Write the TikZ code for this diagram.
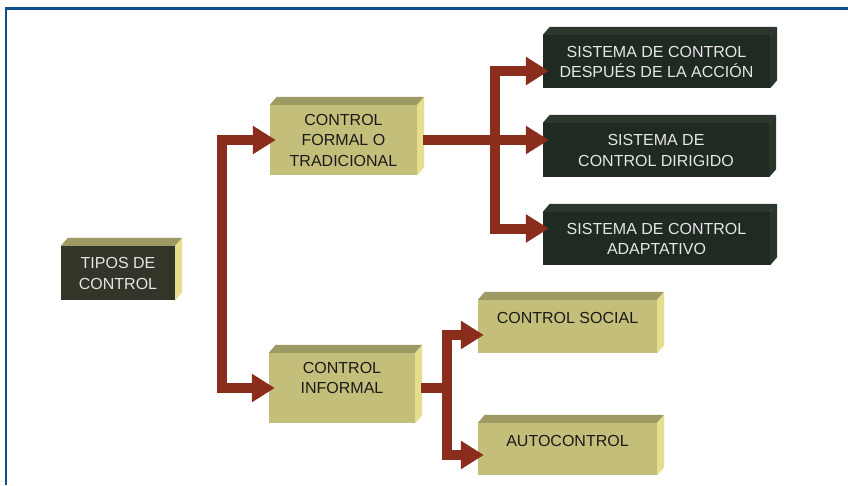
\documentclass[tikz,border=0pt]{standalone}
\usepackage{fontspec}
\setmainfont{Liberation Sans}
\usetikzlibrary{arrows.meta,calc}
\definecolor{arena}{HTML}{C3BF7B}
\definecolor{techoclaro}{HTML}{9D9A63}
\definecolor{ladoclaro}{HTML}{E4DE8D}
\definecolor{oliva}{HTML}{333528}
\definecolor{pizarra}{HTML}{1F2A22}
\definecolor{techooscuro}{HTML}{2C362D}
\definecolor{ladooscuro}{HTML}{29342B}
\definecolor{granate}{HTML}{8B2D1D}
\definecolor{marco}{HTML}{114C8C}
\definecolor{tiza}{HTML}{E6E6E6}
\definecolor{tinta}{HTML}{1A1A1A}

\begin{document}
\begin{tikzpicture}[x=1pt,y=-1pt,
  caja/.style={inner sep=0pt,align=center,text depth=0pt,font=\fontsize{16}{20.5}\selectfont},
  una/.style={text height=11.5pt},
  dos/.style={text height=32pt},
  tres/.style={text height=52.5pt},
  clara/.style={caja,fill=arena,text=tinta},
  oscura/.style={caja,fill=pizarra,text=tiza},
  flecha/.style={draw=granate,line width=10pt,-{Triangle[length=23pt,width=27pt]},shorten >=-6pt}]
\useasboundingbox[fill=white] (0,0) rectangle (848,485);
\draw[marco,line width=2.5pt] (6,485)--(6,8.5)--(848,8.5);

% caras frontales
\node[oscura,dos,fill=oliva,minimum width=114pt,minimum height=54pt] (tipos) at (118,273) {TIPOS DE\\CONTROL};
\node[clara,tres,minimum width=147pt,minimum height=70pt] (formal) at (343.5,140) {CONTROL\\FORMAL O\\TRADICIONAL};
\node[clara,dos,minimum width=146pt,minimum height=70pt,text depth=20.5pt] (informal) at (342,388) {CONTROL\\INFORMAL};
\node[oscura,dos,minimum width=227pt,minimum height=53pt] (despues) at (656.5,61.5) {SISTEMA DE CONTROL\\DESPUÉS DE LA ACCIÓN};
\node[oscura,dos,minimum width=226pt,minimum height=54pt] (dirigido) at (656,150) {SISTEMA DE\\CONTROL DIRIGIDO};
\node[oscura,dos,minimum width=227pt,minimum height=53pt] (adapt) at (656.5,238.5) {SISTEMA DE CONTROL\\ADAPTATIVO};
\node[clara,una,minimum width=179pt,minimum height=53pt,text depth=18.5pt] (social) at (567.5,326.5) {CONTROL SOCIAL};
\node[clara,una,minimum width=179pt,minimum height=52pt,text depth=17.5pt] (auto) at (567.5,449) {AUTOCONTROL};

% techo y lado de cada caja
\foreach \caja/\techo/\lado in {tipos/techoclaro/ladoclaro,formal/techoclaro/ladoclaro,informal/techoclaro/ladoclaro,
    despues/techooscuro/ladooscuro,dirigido/techooscuro/ladooscuro,adapt/techooscuro/ladooscuro,
    social/techoclaro/ladoclaro,auto/techoclaro/ladoclaro}{
  \fill[\techo] (\caja.north west) -- ++(7,-8) -- ($(\caja.north east)+(7,-8)$) -- (\caja.north east) -- cycle;
  \fill[\lado] (\caja.north east) -- ++(7,-8) -- ($(\caja.south east)+(7,-8)$) -- (\caja.south east) -- cycle;
}

% flechas
\coordinate (tronco) at (222,265);
\coordinate (troncoB) at (495,140);
\coordinate (troncoC) at (447,388);
\draw[flecha] (tronco) |- (formal.west);
\draw[flecha] (tronco) |- (informal.west);
\draw[flecha] ([xshift=6pt]formal.east) -- (formal.east -| dirigido.west);
\draw[flecha] (troncoB) |- ([yshift=-9.5pt]despues.west);
\draw[flecha] (troncoB) |- ([yshift=10pt]adapt.west);
\draw[granate,line width=10pt] ([xshift=6pt]informal.east) -- (troncoC);
\draw[flecha] (troncoC) |- ([yshift=-8.5pt]social.west);
\draw[flecha] (troncoC) |- ([yshift=-6pt]auto.west);
\end{tikzpicture}
\end{document}
